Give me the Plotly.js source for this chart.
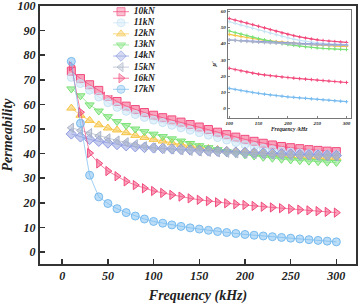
<!DOCTYPE html>
<html><head><meta charset="utf-8">
<script src="https://cdn.plot.ly/plotly-3.0.1.min.js"></script>
<style>html,body{margin:0;padding:0;background:#fff;}#chart{width:362px;height:304px;}</style>
</head><body><div id="chart"></div>
<script>
const freq = [10,20,30,40,50,60,70,80,90,100,110,120,130,140,150,160,170,180,190,200,210,220,230,240,250,260,270,280,290,300];
const names = ['10kN','11kN','12kN','13kN','14kN','15kN','16kN','17kN'];
const kN10 = [73.5,70.5,68.0,65.7,63.3,61.2,59.3,57.9,56.7,55.6,54.6,53.7,52.8,51.8,50.8,49.8,48.7,47.7,46.7,45.8,45.0,44.2,43.5,42.9,42.4,42.0,41.6,41.3,41.0,40.8];
const kN11 = [71.0,68.5,65.8,63.0,60.7,58.8,57.2,55.9,54.7,53.6,52.6,51.5,50.5,49.5,48.5,47.5,46.5,45.5,44.5,43.6,42.8,42.1,41.5,41.0,40.6,40.3,40.0,39.8,39.6,39.5];
const kN12 = [58.5,55.6,53.5,51.7,50.4,49.6,48.5,47.4,46.6,45.8,45.1,44.4,43.8,43.2,42.6,42.1,41.7,41.3,41.0,40.7,40.4,40.1,39.8,39.5,39.2,39.0,38.8,38.6,38.4,38.3];
const kN13 = [66.3,63.5,59.8,57.3,55.0,53.0,51.4,50.0,48.9,47.9,46.9,46.0,45.1,44.1,43.2,42.4,41.6,40.8,40.1,39.5,39.0,38.5,38.1,37.7,37.4,37.1,36.9,36.7,36.5,36.4];
const kN14 = [48.0,46.8,45.8,45.0,44.3,43.7,43.2,42.8,42.5,42.3,42.1,41.9,41.7,41.5,41.3,41.1,41.0,40.8,40.6,40.5,40.3,40.2,40.0,39.9,39.8,39.6,39.5,39.4,39.3,39.2];
const kN15 = [50.5,49.4,48.3,47.2,46.2,45.3,44.6,43.8,43.0,42.4,42.0,41.7,41.4,41.1,40.9,40.7,40.5,40.3,40.1,40.0,39.8,39.7,39.5,39.4,39.3,39.2,39.1,39.0,38.9,38.9];
const kN16 = [75.5,56.8,40.2,36.0,32.9,30.8,28.7,27.2,25.9,24.8,24.0,23.2,22.5,21.8,21.2,20.7,20.2,19.8,19.4,19.1,18.7,18.4,18.1,17.8,17.5,17.2,16.9,16.6,16.3,16.0];
const kN17 = [77.5,52.3,31.2,22.4,19.7,17.6,16.0,14.6,13.4,12.4,11.7,11.0,10.4,9.8,9.3,8.8,8.3,7.9,7.5,7.1,6.8,6.5,6.2,5.9,5.6,5.3,5.0,4.7,4.4,4.1];
const series = [kN10,kN11,kN12,kN13,kN14,kN15,kN16,kN17];
const colors = ['#f2497c','#c6e3f6','#f6c443','#78e274','#8d9be0','#a9b3c8','#f2497c','#78bbef'];
const symbols = ['square','circle','triangle-up','triangle-down','diamond','triangle-left','triangle-right','circle'];
const insetStart = 100;

function rgba(hex,a){const n=parseInt(hex.slice(1),16);return `rgba(${n>>16&255},${n>>8&255},${n&255},${a})`;}
const F = 'Liberation Serif, Times New Roman, serif';
const traces = [];
series.forEach((ys,i)=>{
  traces.push({x:freq,y:ys,type:'scatter',mode:'lines+markers',name:names[i],showlegend:false,
    line:{color:rgba(colors[i],0.7),width:1},
    marker:{symbol:symbols[i],size:8,color:rgba(colors[i],0.5),line:{color:colors[i],width:1}},
    xaxis:'x',yaxis:'y'});
});
series.forEach((ys,i)=>{
  const idx = freq.map((f,k)=>f>=insetStart?k:-1).filter(k=>k>=0);
  traces.push({x:idx.map(k=>freq[k]),y:idx.map(k=>ys[k]),type:'scatter',mode:'lines+markers',showlegend:false,
    line:{color:colors[i],width:1.2},marker:{symbol:'cross-thin-open',size:2.5,line:{color:colors[i],width:1}},
    xaxis:'x2',yaxis:'y2'});
});
names.forEach((nm,i)=>{
  traces.push({x:[0,0.5,1],y:[i,i,i],type:'scatter',mode:'lines+markers+text',showlegend:false,
    text:['','','\u00a0\u00a0'+nm],textposition:'middle right',cliponaxis:false,
    textfont:{family:F,size:9.5,color:'#222',weight:'bold',style:'italic'},
    line:{color:rgba(colors[i],0.7),width:1},
    marker:{symbol:symbols[i],size:[0,8,0],color:rgba(colors[i],0.5),line:{color:colors[i],width:1}},
    xaxis:'x3',yaxis:'y3',hoverinfo:'skip'});
});
const tickF = {family:F,size:12,color:'#222',weight:'bold',style:'italic'};
const smallF = {family:F,size:5,color:'#222',weight:'bold',style:'italic'};
const layout = {
  width:362,height:304,margin:{l:40,r:6,t:6,b:40},
  paper_bgcolor:'#fff',plot_bgcolor:'#fff',showlegend:false,
  xaxis:{domain:[0,1],range:[-24.3,321.5],tickvals:[0,50,100,150,200,250,300],ticks:'inside',ticklen:5,tickwidth:1.5,tickcolor:'#333',
    ticklabeloverflow:'allow',
    showline:true,mirror:true,linewidth:2,linecolor:'#333',showgrid:false,zeroline:false,tickfont:tickF,
    title:{text:'Frequency (kHz)',font:{family:F,size:14,color:'#222',weight:'bold',style:'italic'},standoff:8}},
  yaxis:{domain:[0,1],range:[-4.9,100.02],tickvals:[0,10,20,30,40,50,60,70,80,90,100],ticks:'inside',ticklen:5,tickwidth:1.5,tickcolor:'#333',
    ticklabeloverflow:'allow',
    showline:true,mirror:true,linewidth:2,linecolor:'#333',showgrid:false,zeroline:false,tickfont:tickF,
    title:{text:'Permeability',font:{family:F,size:14,color:'#222',weight:'bold',style:'italic'},standoff:4}},
  xaxis2:{domain:[0.594,0.983],anchor:'y2',range:[97.3,307],tickvals:[100,150,200,250,300],ticks:'inside',ticklen:2,tickwidth:0.8,tickcolor:'#666',
    showline:true,mirror:true,linewidth:1,linecolor:'#777',showgrid:false,zeroline:false,tickfont:smallF,
    title:{text:'Frequency /kHz',font:{family:F,size:5.5,color:'#222',weight:'bold',style:'italic'},standoff:2}},
  yaxis2:{domain:[0.567,0.984],anchor:'x2',range:[-5.8,60.8],tickvals:[0,10,20,30,40,50,60],ticks:'inside',ticklen:2,tickwidth:0.8,tickcolor:'#666',
    showline:true,mirror:true,linewidth:1,linecolor:'#777',showgrid:false,zeroline:false,tickfont:smallF,
    title:{text:"μ'",font:{family:F,size:6,color:'#222',weight:'bold',style:'italic'},standoff:2}},
  xaxis3:{domain:[0.2057,0.4589],anchor:'y3',range:[-0.5,4.5],visible:false,fixedrange:true},
  yaxis3:{domain:[0.655,1.0],anchor:'x3',range:[7.514,-0.514],visible:false,fixedrange:true}
};
Plotly.newPlot('chart',traces,layout,{displayModeBar:false,staticPlot:true});
</script></body></html>
